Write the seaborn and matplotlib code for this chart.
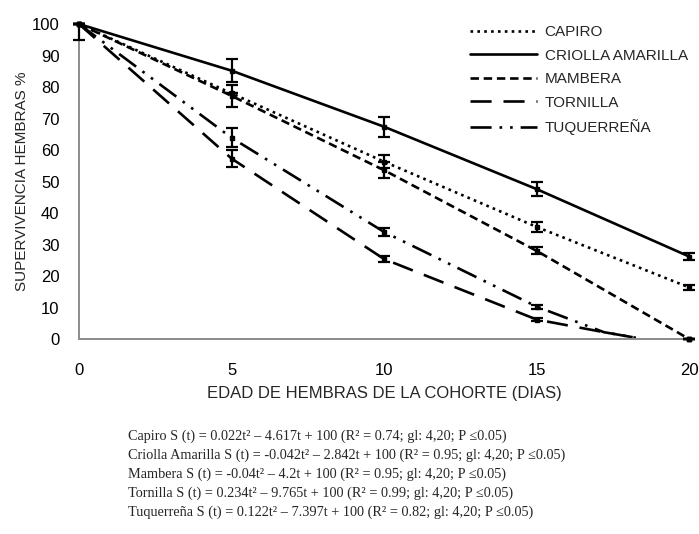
import numpy as np
import pandas as pd
import matplotlib
matplotlib.use("Agg")
import matplotlib.pyplot as plt
import seaborn as sns

# datos (dias y supervivencia %)
dias = [0, 5, 10, 15, 20]
capiro = [100, 78.0, 56.3, 35.6, 16.4]
criolla = [100, 85.2, 67.4, 47.6, 26.2]
mambera = [100, 77.2, 53.6, 28.0, 0]
tornilla = [100, 57.3, 25.4, 6.2, 0]
tuquerrena = [100, 63.9, 34.0, 10.3, 0]

# error hacia abajo / hacia arriba
err_capiro = [[0, 0, 2.1, 1.5, 0.7], [0, 0, 2.1, 1.5, 0.7]]
err_criolla = [[0, 3.6, 3.2, 2.3, 1.1], [0, 3.6, 3.2, 2.3, 1.1]]
err_mambera = [[0, 3.5, 2.5, 1.1, 0], [0, 3.5, 2.5, 1.1, 0]]
err_tornilla = [[5.0, 2.8, 0.9, 0.4, 0], [0, 2.8, 0.9, 0.4, 0]]
err_tuquerrena = [[0, 3.0, 1.4, 0.6, 0], [0, 3.0, 1.4, 0.6, 0]]

# las curvas de tornilla y tuquerrena caen a cero antes de los 20 dias
dias_cola = [0, 5, 10, 15, 17.2, 18.5]
tornilla_cola = [100, 57.3, 25.4, 6.2, 2.2, 0]
tuquerrena_cola = [100, 63.9, 34.0, 10.3, 2.2, 0]

nombres = ["CAPIRO", "CRIOLLA AMARILLA", "MAMBERA", "TORNILLA", "TUQUERREÑA"]

ecuaciones = [
    "Capiro S (t) = 0.022t² – 4.617t + 100 (R² = 0.74; gl: 4,20; P ≤0.05)",
    "Criolla Amarilla S (t) = -0.042t² – 2.842t + 100 (R² = 0.95; gl: 4,20; P ≤0.05)",
    "Mambera S (t) = -0.04t² – 4.2t + 100 (R² = 0.95; gl: 4,20; P ≤0.05)",
    "Tornilla S (t) = 0.234t² – 9.765t + 100 (R² = 0.99; gl: 4,20; P ≤0.05)",
    "Tuquerreña S (t) = 0.122t² – 7.397t + 100 (R² = 0.82; gl: 4,20; P ≤0.05)",
]

# armamos la tabla larga para seaborn
curvas = [(dias, capiro), (dias, criolla), (dias, mambera),
          (dias_cola, tornilla_cola), (dias_cola, tuquerrena_cola)]
filas = []
for nombre, (x, y) in zip(nombres, curvas):
    for xi, yi in zip(x, y):
        filas.append({"dia": xi, "sup": yi, "variedad": nombre})
df = pd.DataFrame(filas)

sns.set_theme(style="white")
plt.rcParams["font.family"] = ["Liberation Sans Narrow", "Liberation Sans", "DejaVu Sans"]

fig = plt.figure(figsize=(6.99, 5.34), dpi=100)
ax = fig.add_axes([0.113, 0.365, 0.873, 0.59])

estilos = {
    "CAPIRO": (1, 1.6),
    "CRIOLLA AMARILLA": "",
    "MAMBERA": (3.2, 1.8),
    "TORNILLA": (8, 4.5),
    "TUQUERREÑA": (8, 3, 1, 3, 1, 3),
}
sns.lineplot(data=df, x="dia", y="sup", hue="variedad", style="variedad",
             palette=["black"] * 5, dashes=estilos, linewidth=1.9,
             hue_order=nombres, style_order=nombres, sort=False,
             legend=True, ax=ax)

for y, e in zip([capiro, criolla, mambera, tornilla, tuquerrena],
                [err_capiro, err_criolla, err_mambera, err_tornilla, err_tuquerrena]):
    ax.errorbar(dias, y, yerr=e, fmt="s", color="black", markersize=3,
                elinewidth=1.6, capsize=4, capthick=1.6, clip_on=False, zorder=6)

ax.set_xlim(0, 20)
ax.set_ylim(0, 100)
ax.set_xticks([0, 5, 10, 15, 20])
ax.set_yticks(range(0, 101, 10))

gris = "#8c8c8c"
for lado in ["top", "right"]:
    ax.spines[lado].set_visible(False)
for lado in ["left", "bottom"]:
    ax.spines[lado].set_color(gris)
    ax.spines[lado].set_linewidth(1.4)
    ax.spines[lado].set_zorder(5)
ax.tick_params(axis="both", which="major", direction="out", length=5,
               width=1.2, color=gris, labelsize=12, labelcolor="black")
ax.tick_params(axis="x", pad=12)
ax.tick_params(axis="y", pad=9)

ax.set_xlabel("EDAD DE HEMBRAS DE LA COHORTE (DIAS)", fontsize=12, labelpad=6)
ax.set_ylabel("SUPERVIVENCIA HEMBRAS %", fontsize=11, labelpad=2)

handles, labels = ax.get_legend_handles_labels()
for h in handles:
    h.set_linewidth(1.9)
ax.legend(handles[-5:], labels[-5:], loc="upper right", frameon=False,
          fontsize=11, handlelength=4.4, handletextpad=0.5, labelspacing=0.62,
          bbox_to_anchor=(1.02, 1.04))

for i, ec in enumerate(ecuaciones):
    fig.text(128 / 699, 1 - (436 + 19 * i) / 534, ec, fontsize=10.3,
             family=["Liberation Serif", "DejaVu Serif"], va="center", ha="left")

fig.savefig("out.png", dpi=100)
